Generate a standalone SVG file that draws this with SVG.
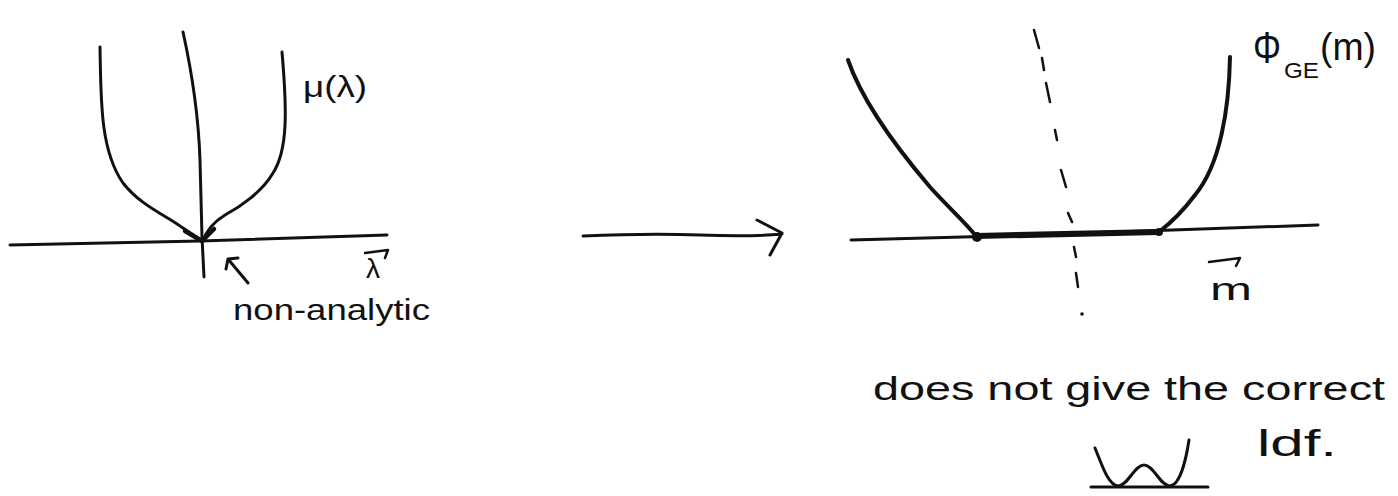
<svg xmlns="http://www.w3.org/2000/svg" width="1398" height="496" viewBox="0 0 1398 496">
<style>
.ink{fill:none;stroke:#111;stroke-linecap:round;stroke-linejoin:round}
.t{font-family:"Liberation Sans",Arial,sans-serif;fill:#111}
</style>
<rect width="1398" height="496" fill="#fff"/>
<g id="left-plot">
<path class="ink" stroke-width="3" d="M10,245 L200,241 L387,235"/>
<path class="ink" stroke-width="3" d="M183,32 Q198,100 200,160 L202,237 L204,277"/>
<path class="ink" stroke-width="3" d="M100,47 C101,100 100,150 123,183 C140,205 165,215 180,226 C192,234 198,238 202,241"/>
<path class="ink" stroke-width="3" d="M282,52 C287,110 288,150 273,173 C262,192 240,207 225,215 C212,223 206,232 203,241"/>
<path class="ink" stroke-width="4.5" d="M185,231 L202,241 L214,229"/>
<text class="t" x="303" y="97" font-size="30" textLength="64" lengthAdjust="spacingAndGlyphs">μ(λ)</text>
<text class="t" x="366" y="278" font-size="28">λ</text>
<path class="ink" stroke-width="2.5" d="M365,253 L388,250 L385,258"/>
<path class="ink" stroke-width="3" d="M248,283 L228,259 M226,269 L228,259 L238,258"/>
<text class="t" x="233" y="320" font-size="30" textLength="197" lengthAdjust="spacingAndGlyphs">non-analytic</text>
</g>
<g id="connectors">
<path class="ink" stroke-width="3" d="M583,236 Q650,233 700,235 T782,234 M757,220 L782,233 L770,255"/>
</g>
<g id="right-plot">
<path class="ink" stroke-width="3" d="M851,240 L1000,236 L1318,225"/>
<path class="ink" stroke-width="4" d="M848,60 C860,95 890,140 930,187 C948,207 965,222 976,236"/>
<path class="ink" stroke-width="4" d="M1230,57 C1229,110 1220,165 1195,195 C1180,215 1168,225 1159,232"/>
<path class="ink" stroke-width="6" d="M976,236 L1159,232"/>
<circle cx="977" cy="237" r="5" fill="#111"/>
<circle cx="1159" cy="232" r="4" fill="#111"/>
<path class="ink" stroke-width="2.5" d="M1034,30 L1039,48 M1042,58 L1044,70 M1046,83 L1050,102 M1055,130 L1057,140 M1061,170 L1066,187 M1068,213 L1072,222 M1074,247 L1076,257 M1076,273 L1078,287"/>
<circle cx="1082" cy="314" r="1.8" fill="#111"/>
<text class="t" x="1253" y="63" font-size="44" textLength="28" lengthAdjust="spacingAndGlyphs">Φ</text>
<text class="t" x="1284" y="78" font-size="22" textLength="35" lengthAdjust="spacingAndGlyphs">GE</text>
<text class="t" x="1320" y="60" font-size="38" textLength="56" lengthAdjust="spacingAndGlyphs">(m)</text>
<text class="t" x="1210" y="300" font-size="32" textLength="42" lengthAdjust="spacingAndGlyphs">m</text>
<path class="ink" stroke-width="2.5" d="M1209,262 L1240,258 L1236,266"/>
</g>
<g id="caption">
<text class="t" x="873" y="400" font-size="34" textLength="512" lengthAdjust="spacingAndGlyphs">does not give the correct</text>
<text class="t" x="1257" y="456" font-size="36" textLength="80" lengthAdjust="spacingAndGlyphs">ldf.</text>
<path class="ink" stroke-width="3" d="M1091,487 L1208,487"/>
<path class="ink" stroke-width="3" d="M1095,448 C1102,465 1108,485 1118,486 C1128,486 1134,465 1144,465 C1154,465 1160,486 1170,486 C1180,485 1186,460 1189,440"/>
</g>
</svg>
